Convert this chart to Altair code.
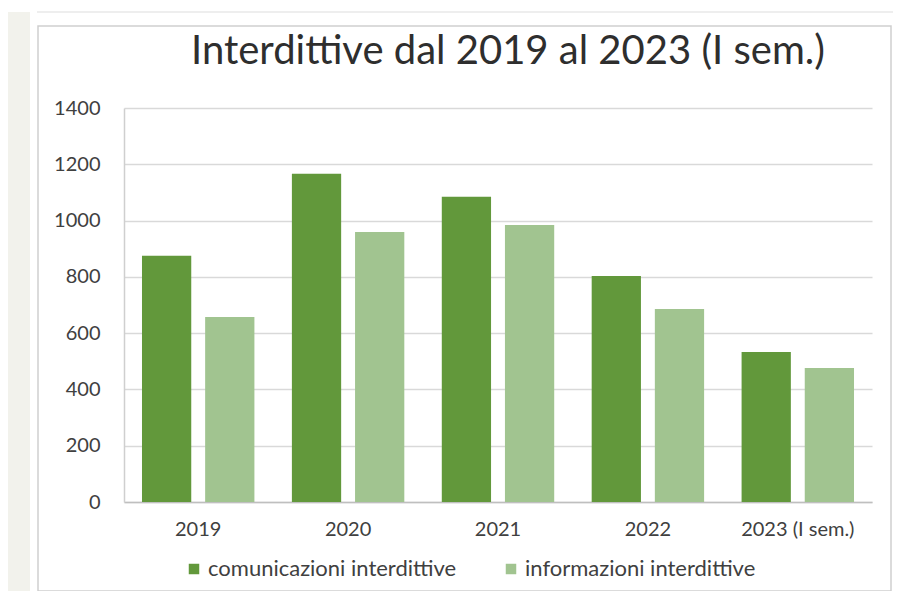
import altair as alt
import pandas as pd

# ---- data ----
years = ["2019", "2020", "2021", "2022", "2023 (I sem.)"]
series = ["comunicazioni interdittive", "informazioni interdittive"]
comunicazioni = [875, 1166, 1085, 803, 533]
informazioni = [657, 959, 984, 686, 476]
colors = ["#62983B", "#A1C490"]
y_ticks = [0, 200, 400, 600, 800, 1000, 1200, 1400]
title_text = ["Interdittive dal 2019 al 2023 (I sem.)"]

rows = []
for i, yr in enumerate(years):
    rows.append({"anno": yr, "serie": series[0], "valore": comunicazioni[i]})
    rows.append({"anno": yr, "serie": series[1], "valore": informazioni[i]})
df = pd.DataFrame(rows)

W, H = 748, 394
FONT = "Lato"
LABEL = "#404040"

one = pd.DataFrame({"k": [0]})

# decorative page elements (frame, left strip, top line)
strip = alt.Chart(one).mark_rect(fill="#f2f2ec").encode(
    x=alt.value(-116), x2=alt.value(-94), y=alt.value(-96), y2=alt.value(500)
)
topline = alt.Chart(one).mark_rule(color="#e8e8e8", strokeWidth=1.5).encode(
    x=alt.value(-87), x2=alt.value(769), y=alt.value(-96)
)
frame = alt.Chart(one).mark_rect(filled=False, stroke="#cfcfcf", strokeWidth=1.5).encode(
    x=alt.value(-86), x2=alt.value(767), y=alt.value(-82), y2=alt.value(483)
)

title = alt.Chart(pd.DataFrame({"t": title_text})).mark_text(
    font=FONT, fontSize=40, color="#2e2e2e", align="center", baseline="alphabetic"
).encode(text="t:N", x=alt.value(384), y=alt.value(-44))

bars = alt.Chart(df).mark_bar().encode(
    x=alt.X(
        "anno:N",
        sort=years,
        scale=alt.Scale(paddingInner=0.25, paddingOuter=0.12),
        axis=alt.Axis(
            title=None,
            labelAngle=0,
            labelFont=FONT,
            labelFontSize=20,
            labelColor=LABEL,
            labelPadding=17,
            ticks=False,
            domainColor="#bfbfbf",
            domainWidth=1.5,
            grid=False,
        ),
    ),
    xOffset=alt.XOffset("serie:N", sort=series, scale=alt.Scale(paddingInner=0.22)),
    y=alt.Y(
        "valore:Q",
        scale=alt.Scale(domain=[0, 1400], nice=False),
        axis=alt.Axis(
            title=None,
            values=y_ticks,
            format="d",
            labelFont=FONT,
            labelFontSize=20,
            labelColor=LABEL,
            labelPadding=24,
            ticks=False,
            domainColor="#cfcfcf",
            domainWidth=1.5,
            gridColor="#d9d9d9",
            gridWidth=1.5,
        ),
    ),
    color=alt.Color(
        "serie:N",
        sort=series,
        scale=alt.Scale(domain=series, range=colors),
        legend=alt.Legend(
            title=None,
            orient="none",
            direction="horizontal",
            legendX=59,
            legendY=450,
            symbolType="square",
            symbolSize=110,
            symbolStrokeWidth=0,
            labelFont=FONT,
            labelFontSize=22,
            labelColor=LABEL,
            labelLimit=0,
            labelOffset=3,
            columnPadding=43,
            padding=0,
        ),
    ),
)

chart = (
    alt.layer(strip, topline, frame, bars, title)
    .properties(
        width=W,
        height=H,
        autosize=alt.AutoSizeParams(type="none"),
        padding={"left": 116, "top": 100, "right": 21, "bottom": 89},
        background="white",
    )
    .configure_view(stroke=None)
)

chart.save("out.html", embed_options={"renderer": "svg", "actions": False})
